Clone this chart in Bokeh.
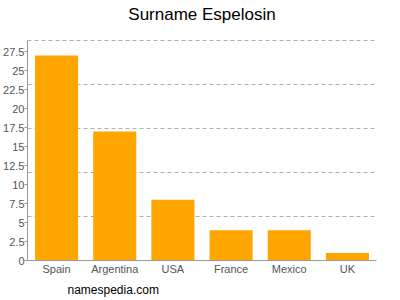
from bokeh.plotting import figure
from bokeh.models import FactorRange, Range1d, FixedTicker, Title
from bokeh.core.properties import value
from bokeh.embed import file_html
from bokeh.resources import INLINE

countries = ["Spain", "Argentina", "USA", "France", "Mexico", "UK"]
counts = [27, 17, 8, 4, 4, 1]
y_ticks = [0, 2.5, 5, 7.5, 10, 12.5, 15, 17.5, 20, 22.5, 25, 27.5]
y_labels = ["0", "2.5", "5", "7.5", "10", "12.5", "15", "17.5", "20", "22.5", "25", "27.5"]
grid_lines = [5.8, 11.6, 17.4, 23.2, 29]
y_top = 29
title_text = "Surname Espelosin"

FONT = "Liberation Sans"

# layout: frame spans canvas top to the x axis; the data top (29) sits 40px below canvas top
H, BOTTOM, TOP_PAD, TITLE_Y = 300, 39, 40, 14
frame_h = H - BOTTOM
y_end = y_top * frame_h / (frame_h - TOP_PAD)
title_y = y_end * (frame_h - TITLE_Y) / frame_h

p = figure(width=400, height=H, output_backend="svg", toolbar_location=None,
           x_range=FactorRange(factors=countries, range_padding=0),
           y_range=Range1d(0, y_end),
           min_border_left=27, min_border_right=24, min_border_top=0, min_border_bottom=BOTTOM)

p.vbar(x=countries, top=counts, width=0.74, color="#FFA500", line_color=None)

p.text(x=[len(countries) / 2], y=[title_y], text=[title_text], text_align="center",
       text_baseline="middle", text_font=value(FONT), text_font_size="17px", text_color="#000000")

p.add_layout(Title(text="namespedia.com", align="left", offset=40, standoff=7, text_font=FONT,
                   text_font_size="12px", text_font_style="normal", text_color="#000000"), "below")

p.outline_line_color = None
p.xgrid.grid_line_color = None
p.ygrid.ticker = FixedTicker(ticks=grid_lines)
p.ygrid.grid_line_color = "#b0b0b0"
p.ygrid.grid_line_dash = "4 3"

p.yaxis.ticker = FixedTicker(ticks=y_ticks)
p.yaxis.bounds = (0, y_top)
p.yaxis.major_label_overrides = dict(zip(y_ticks, y_labels))
p.yaxis.minor_tick_line_color = None
p.yaxis.major_tick_in = 0
p.yaxis.major_tick_out = 3
p.yaxis.major_label_standoff = 0

for ax in (p.xaxis, p.yaxis):
    ax.axis_line_color = "#999999"
    ax.major_tick_line_color = "#999999"
    ax.major_label_text_font = FONT
    ax.major_label_text_font_size = "11px"
    ax.major_label_text_color = "#555555"

p.xaxis.major_tick_line_color = None
p.xaxis.major_tick_out = 0
p.xaxis.major_tick_in = 0
p.xaxis.major_label_standoff = 2

open("out.html", "w").write(file_html(p, INLINE))
